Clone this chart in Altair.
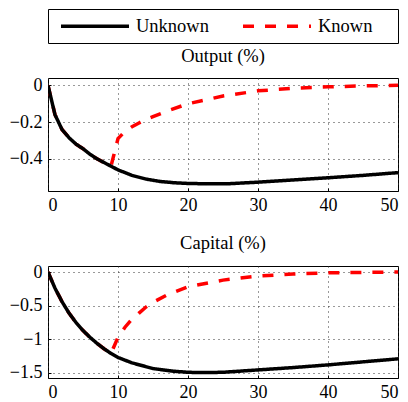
import altair as alt
import pandas as pd

FONT = "Liberation Serif"

# ---- data ----
out_unknown_t = [0, 1, 2, 3, 4, 5, 6, 7, 8, 9, 10, 12, 14, 16, 18, 20, 23, 26, 30, 35, 40, 45, 50]
out_unknown_v = [0, -0.16, -0.24, -0.285, -0.32, -0.345, -0.375, -0.40, -0.42, -0.44, -0.46,
                 -0.49, -0.51, -0.523, -0.53, -0.534, -0.536, -0.535, -0.527, -0.515, -0.503, -0.49, -0.475]
out_known_t = [0, 1, 2, 3, 4, 5, 6, 7, 8, 9, 10, 11, 12, 13, 14, 15, 17, 20, 25, 30, 35, 40, 45, 50]
out_known_v = [0, -0.16, -0.24, -0.285, -0.32, -0.345, -0.375, -0.40, -0.42, -0.44, -0.29, -0.25,
               -0.225, -0.205, -0.185, -0.17, -0.14, -0.10, -0.058, -0.03, -0.016, -0.008, -0.003, 0.0]

cap_unknown_t = [0, 1, 2, 3, 4, 5, 6, 7, 8, 9, 10, 12, 15, 18, 20, 22, 25, 30, 35, 40, 45, 50]
cap_unknown_v = [0, -0.24, -0.44, -0.61, -0.75, -0.87, -0.97, -1.06, -1.14, -1.21, -1.27, -1.35,
                 -1.435, -1.475, -1.49, -1.495, -1.49, -1.455, -1.42, -1.38, -1.335, -1.29]
cap_known_t = [0, 1, 2, 3, 4, 5, 6, 7, 8, 9, 10, 11, 12, 13, 14, 15, 17, 20, 25, 30, 35, 40, 45, 50]
cap_known_v = [0, -0.24, -0.44, -0.61, -0.75, -0.87, -0.97, -1.06, -1.14, -1.21, -0.97, -0.82,
               -0.70, -0.61, -0.52, -0.45, -0.34, -0.22, -0.12, -0.06, -0.03, -0.012, -0.005, 0.0]

series = ["Unknown", "Known"]
x_ticks = [0, 10, 20, 30, 40, 50]
out_ticks = [0, -0.2, -0.4]
cap_ticks = [0, -0.5, -1, -1.5]


def frame(ut, uv, kt, kv):
    rows = [{"t": t, "v": v, "series": "Known", "order": 0} for t, v in zip(kt, kv)]
    rows += [{"t": t, "v": v, "series": "Unknown", "order": 1} for t, v in zip(ut, uv)]
    return pd.DataFrame(rows)


def panel(df, title, ydom, yticks, height, show_legend):
    x = alt.X("t:Q", scale=alt.Scale(domain=[0, 50], nice=False),
              axis=alt.Axis(values=x_ticks, title=None, offset=-3, tickSize=3,
                            labelPadding=5, format="d", labelFont=FONT, labelFontSize=18))
    y = alt.Y("v:Q", scale=alt.Scale(domain=ydom, nice=False, zero=False),
              axis=alt.Axis(values=yticks, title=None, offset=-3, tickSize=3,
                            labelPadding=6, format="~g", labelFont=FONT, labelFontSize=18))
    if show_legend:
        leg = alt.Legend(orient="none", legendX=0, legendY=0, direction="horizontal",
                         title=None, padding=8, symbolType="M-1,0H1",
                         symbolSize=68 * 68, symbolStrokeWidth=3.5, labelFont=FONT,
                         labelFontSize=18.5, labelOffset=5, columnPadding=29,
                         clipHeight=18, symbolOffset=3, labelColor="black")
    else:
        leg = None
    color = alt.Color("series:N", scale=alt.Scale(domain=series, range=["black", "red"]),
                      legend=leg)
    dash = alt.StrokeDash("series:N",
                          scale=alt.Scale(domain=series, range=[[1, 0], [11, 11]]),
                          legend=leg)
    return (
        alt.Chart(df, title=alt.Title(title, font=FONT))
        .mark_line(strokeWidth=3.5, clip=True)
        .encode(x=x, y=y, color=color, strokeDash=dash, detail="series:N",
                order=alt.Order("order:Q"))
        .properties(width=350, height=height)
    )


top = panel(frame(out_unknown_t, out_unknown_v, out_known_t, out_known_v),
            "Output (%)", [-0.575, 0.04], out_ticks, 113, True)
bottom = panel(frame(cap_unknown_t, cap_unknown_v, cap_known_t, cap_known_v),
               "Capital (%)", [-1.575, 0.09], cap_ticks, 112, False)

# legend frame: an empty panel whose view border draws the legend box
box = (
    alt.Chart(pd.DataFrame({"series": series}))
    .mark_point(opacity=0, size=1)
    .encode(x=alt.value(175), y=alt.value(17))
    .properties(width=350, height=34)
)

chart = (
    alt.vconcat(box, alt.vconcat(top, bottom, spacing=75, bounds="flush"),
                spacing=35, bounds="flush")
    .properties(padding={"left": 0, "top": 0, "right": 0, "bottom": 0})
    .configure(font=FONT)
    .configure_view(stroke="black", strokeWidth=1)
    .configure_axis(domain=False, grid=True, gridColor="#333", gridDash=[1, 4],
                    gridWidth=1, tickColor="black", labelFont=FONT, labelFontSize=18,
                    labelColor="black")
    .configure_legend(labelFont=FONT)
    .configure_title(font=FONT, fontSize=18.5, fontWeight="normal", offset=11,
                     baseline="alphabetic", color="black")
)

chart.save("out.html", embed_options={"renderer": "svg", "actions": False})
